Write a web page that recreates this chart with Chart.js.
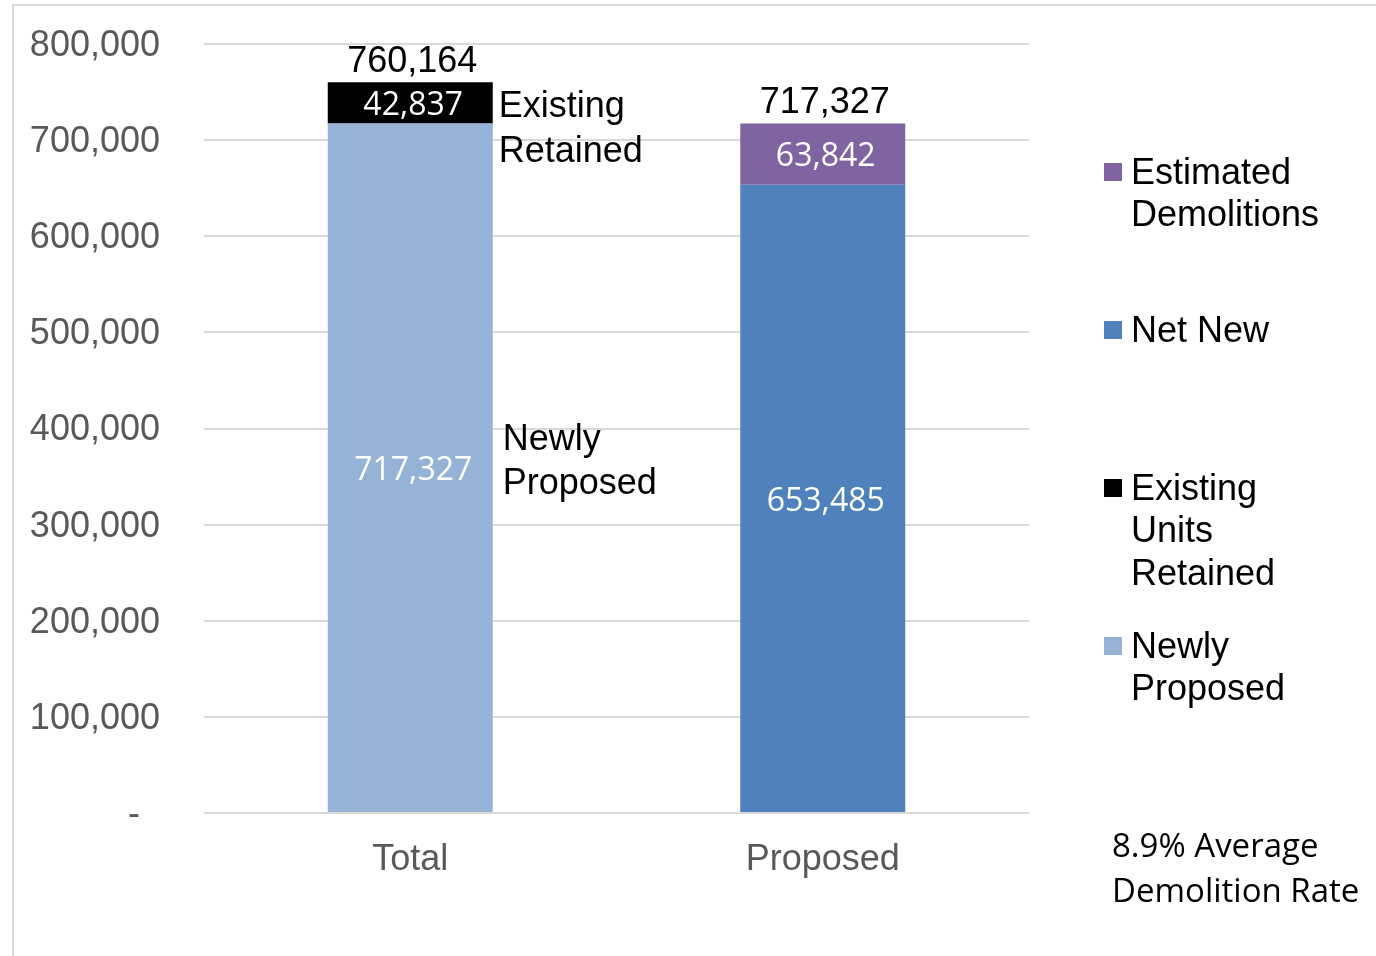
<!DOCTYPE html>
<html>
<head>
<meta charset="utf-8">
<script src="https://cdn.jsdelivr.net/npm/chart.js@4.4.1/dist/chart.umd.min.js"></script>
<style>
  html, body { margin: 0; padding: 0; background: #fff; }
  canvas { display: block; }
</style>
</head>
<body>
<canvas id="chart" width="1376" height="956"></canvas>
<script>
// Categories and stacked series
const categories = ['Total', 'Proposed'];
const seriesNames = ['Newly Proposed', 'Existing Units Retained', 'Net New', 'Estimated Demolitions'];
const newlyProposed = [717327, null];
const existingRetained = [42837, null];
const netNew = [null, 653485];
const estimatedDemolitions = [null, 63842];
const seriesColors = ['#95B3D7', '#000000', '#4F81BD', '#8064A2'];

// Y axis ticks
const yTicks = [0, 100000, 200000, 300000, 400000, 500000, 600000, 700000, 800000];

// Text notes next to the Total bar and under the legend
const existingNote = ['Existing', 'Retained'];
const newlyNote = ['Newly', 'Proposed'];
const rateNote = ['8.9% Average', 'Demolition Rate'];

const ARIAL = "'Liberation Sans', Arial, sans-serif";
const CALIBRI = "'Open Sans', sans-serif";
// 'middle' baseline sits a little high for these fonts
const TEXT_DY = 3;

const fmt = (v) => v.toLocaleString('en-US');

// Splits text into lines no wider than maxWidth
function wrapText(ctx, text, maxWidth) {
  const words = text.split(' ');
  const lines = [];
  let line = '';
  words.forEach((w) => {
    const test = line ? line + ' ' + w : w;
    if (line && ctx.measureText(test).width > maxWidth) {
      lines.push(line);
      line = w;
    } else {
      line = test;
    }
  });
  if (line) lines.push(line);
  return lines;
}

// Light grey frame on the left and top
const frame = {
  id: 'frame',
  beforeDraw(chart) {
    const { ctx } = chart;
    ctx.save();
    ctx.strokeStyle = '#d9d9d9';
    ctx.lineWidth = 2;
    ctx.beginPath();
    ctx.moveTo(13, chart.height);
    ctx.lineTo(13, 5);
    ctx.lineTo(chart.width, 5);
    ctx.stroke();
    ctx.restore();
  },
};

// Values inside segments and totals above stacks
const barLabels = {
  id: 'barLabels',
  afterDatasetsDraw(chart) {
    const { ctx } = chart;
    ctx.save();
    ctx.textAlign = 'center';
    ctx.textBaseline = 'middle';
    ctx.font = '32px ' + CALIBRI;
    ctx.fillStyle = '#ffffff';
    chart.data.datasets.forEach((ds, i) => {
      chart.getDatasetMeta(i).data.forEach((bar, j) => {
        const v = ds.data[j];
        if (!v) return;
        ctx.fillText(fmt(v), bar.x + 3, (bar.y + bar.base) / 2 + TEXT_DY);
      });
    });

    ctx.font = '36px ' + ARIAL;
    ctx.fillStyle = '#000000';
    categories.forEach((c, j) => {
      let total = 0;
      let top = Infinity;
      let x = 0;
      chart.data.datasets.forEach((ds, i) => {
        const v = ds.data[j];
        if (!v) return;
        total += v;
        const bar = chart.getDatasetMeta(i).data[j];
        top = Math.min(top, bar.y);
        x = bar.x;
      });
      ctx.fillText(fmt(total), x + 2, top - 23 + TEXT_DY);
    });

    // Notes to the right of the Total bar
    const y = chart.scales.y;
    const bar = chart.getDatasetMeta(0).data[0];
    const left = bar.x + bar.width / 2 + 6;
    ctx.textAlign = 'left';
    existingNote.forEach((t, k) => {
      ctx.fillText(t, left, y.getPixelForValue(738000) + k * 45 + TEXT_DY);
    });
    newlyNote.forEach((t, k) => {
      ctx.fillText(t, left + 4, y.getPixelForValue(391000) + k * 44 + TEXT_DY);
    });
    ctx.restore();
  },
};

// Legend on the right, entries in reverse stacking order
const sideLegend = {
  id: 'sideLegend',
  afterDraw(chart) {
    const { ctx } = chart;
    ctx.save();
    ctx.font = '36px ' + ARIAL;
    ctx.textBaseline = 'middle';
    ctx.textAlign = 'left';
    [3, 2, 1, 0].forEach((i, n) => {
      const ds = chart.data.datasets[i];
      const y = 172 + n * 158;
      ctx.fillStyle = ds.backgroundColor;
      ctx.fillRect(1104, y - 9, 18, 18);
      ctx.fillStyle = '#000000';
      wrapText(ctx, ds.label, 200).forEach((line, k) => {
        ctx.fillText(line, 1131, y + k * 42.5 + TEXT_DY - 1);
      });
    });

    ctx.font = '33px ' + CALIBRI;
    rateNote.forEach((t, k) => ctx.fillText(t, 1112, 845 + k * 45 + TEXT_DY));
    ctx.restore();
  },
};

const seriesData = [newlyProposed, existingRetained, netNew, estimatedDemolitions];

new Chart(document.getElementById('chart'), {
  type: 'bar',
  data: {
    labels: categories,
    datasets: seriesData.map((data, i) => ({
      label: seriesNames[i],
      data: data,
      backgroundColor: seriesColors[i],
      categoryPercentage: 1,
      barPercentage: 0.4,
    })),
  },
  options: {
    responsive: false,
    animation: false,
    layout: {
      padding: { top: 44, right: 347, bottom: 0, left: 0 },
    },
    plugins: {
      legend: { display: false },
      tooltip: { enabled: false },
    },
    scales: {
      x: {
        stacked: true,
        grid: { display: false },
        border: { display: false },
        ticks: {
          padding: 17,
          color: '#595959',
          font: { family: ARIAL, size: 36 },
        },
        afterFit(scale) {
          scale.height = 143;
        },
      },
      y: {
        stacked: true,
        min: 0,
        max: 800000,
        afterBuildTicks(scale) {
          scale.ticks = yTicks.map((v) => ({ value: v }));
        },
        ticks: {
          padding: 44,
          labelOffset: 2,
          color: '#595959',
          font: { family: ARIAL, size: 36 },
          callback: (v) => (v === 0 ? '-  ' : fmt(v)),
        },
        grid: {
          color: '#d9d9d9',
          lineWidth: 2,
          drawTicks: false,
        },
        border: { display: false },
        afterFit(scale) {
          scale.width = 204;
          scale.paddingTop = 0;
          scale.paddingBottom = 0;
        },
      },
    },
  },
  plugins: [frame, barLabels, sideLegend],
});
</script>
</body>
</html>
